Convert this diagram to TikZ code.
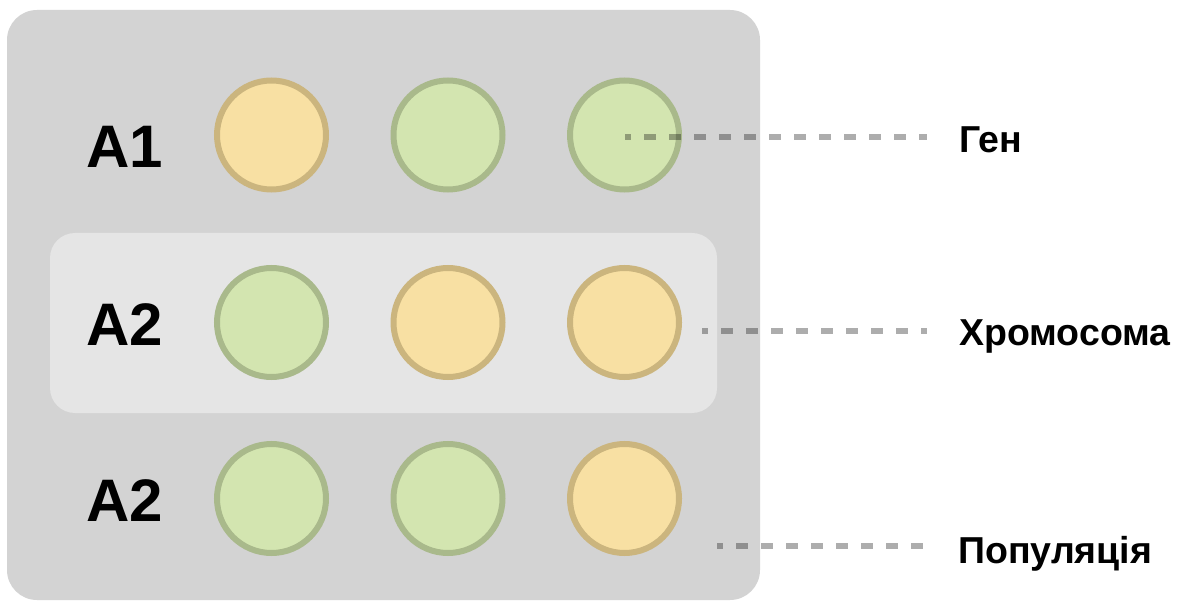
\documentclass[tikz,border=0pt]{standalone}
\usepackage{fontspec}
\setmainfont{Liberation Sans}
\begin{document}
\begin{tikzpicture}[x=1pt,y=-1pt,
  gene/.style={circle,inner sep=0pt,minimum size=109pt,line width=6pt},
  gfill/.style={gene,fill=greenfill,draw=greenedge},
  yfill/.style={gene,fill=yellowfill,draw=yellowedge},
  rowlabel/.style={anchor=base west,inner sep=0pt,font=\fontsize{60}{72}\selectfont\bfseries},
  sidelabel/.style={anchor=base west,inner sep=0pt,font=\fontsize{37.5}{45}\selectfont\bfseries},
  leader/.style={line width=6pt,black,opacity=0.32,dash pattern=on 12pt off 13pt,dash phase=6pt}]
\definecolor{outerbg}{HTML}{D3D3D3}
\definecolor{innerbg}{HTML}{E5E5E5}
\definecolor{greenfill}{HTML}{D3E5B0}
\definecolor{greenedge}{HTML}{A9B98B}
\definecolor{yellowfill}{HTML}{F8E0A3}
\definecolor{yellowedge}{HTML}{CBB57E}
\useasboundingbox (0,0) rectangle (1188,601);

% population and highlighted chromosome panels
\fill[outerbg,rounded corners=30pt] (7,10) rectangle (760,600);
\fill[innerbg,rounded corners=25pt] (50,233) rectangle (717,413);

% row labels
\node[rowlabel] (l1) at (86,168) {A1};
\node[rowlabel] (l2) at (86,345) {A2};
\node[rowlabel] (l3) at (86,521) {A2};

% genes
\node[yfill] (c11) at (271.5,135) {};
\node[gfill] (c12) at (448,135) {};
\node[gfill] (c13) at (624.5,135) {};
\node[gfill] (c21) at (271.5,322.5) {};
\node[yfill] (c22) at (448,322.5) {};
\node[yfill] (c23) at (624.5,322.5) {};
\node[gfill] (c31) at (271.5,498.5) {};
\node[gfill] (c32) at (448,498.5) {};
\node[yfill] (c33) at (624.5,498.5) {};

% legend labels
\node[sidelabel] (gen) at (959,153) {Ген};
\node[sidelabel] (chrom) at (959,345) {Хромосома};
\node[sidelabel] (pop) at (958,563) {Популяція};

% leader line end points
\coordinate (s1) at (625,137);
\coordinate (e1) at (927,137);
\coordinate (s2) at (702,331);
\coordinate (e2) at (927,331);
\coordinate (s3) at (717,546);
\coordinate (e3) at (927,546);

\draw[leader] (s1) -- (e1);
\draw[leader] (s2) -- (e2);
\draw[leader] (s3) -- (e3);
\end{tikzpicture}
\end{document}
